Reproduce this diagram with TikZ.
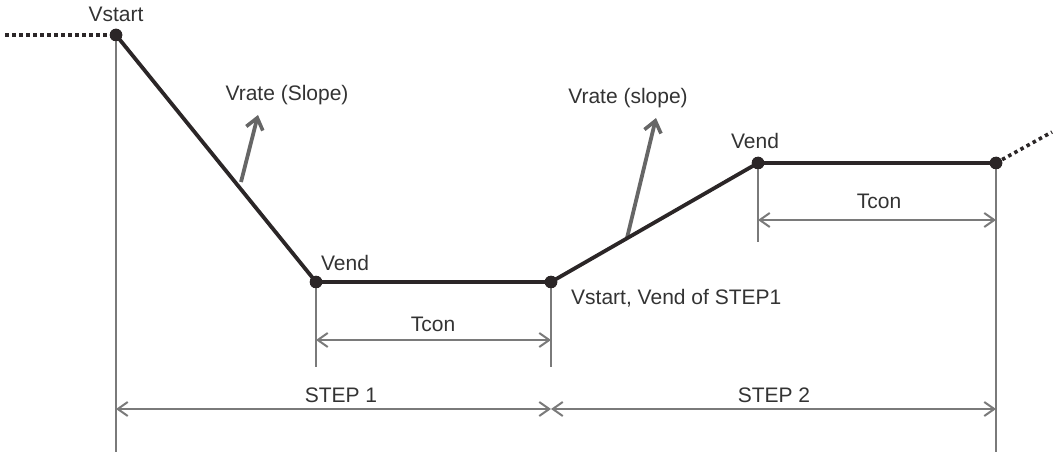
\documentclass[tikz,border=0pt]{standalone}
\usepackage{fontspec}
\setmainfont{Liberation Sans}
\usetikzlibrary{arrows.meta}
\definecolor{ink}{HTML}{2B2627}
\definecolor{gline}{HTML}{7A7A7A}
\definecolor{garrow}{HTML}{666666}
\definecolor{txt}{HTML}{333333}
\tikzset{
  curve/.style={ink, line width=3.8pt, line join=round},
  dotline/.style={ink, line width=3.6pt, dash pattern=on 3.5pt off 3.5pt},
  guide/.style={gline, line width=1.8pt},
  dim/.style={gline, line width=1.8pt, {Straight Barb[length=10pt,width=14pt,line width=2pt]}-{Straight Barb[length=10pt,width=14pt,line width=2pt]}},
  slope/.style={garrow, line width=3.8pt, -{Straight Barb[length=11pt,width=17pt,line width=3.6pt]}},
  lbl/.style={text=txt, font=\fontsize{21}{24}\selectfont, inner sep=0pt},
  pt/.style={circle, fill=ink, minimum size=12.5pt, inner sep=0pt},
}
\begin{document}
\begin{tikzpicture}[x=1pt,y=-1pt]
\useasboundingbox (0,0) rectangle (1054,454);
% points
\node[pt] (p1) at (116,35) {};
\node[pt] (p2) at (316,282) {};
\node[pt] (p3) at (551,282) {};
\node[pt] (p4) at (758,163) {};
\node[pt] (p5) at (996,163) {};
\coordinate (d0) at (5,35);
\coordinate (d6) at (1052,132);
% guides
\coordinate (g1) at (116,452);
\coordinate (g2) at (316,367);
\coordinate (g3) at (551,367);
\coordinate (g4) at (758,242);
\coordinate (g5) at (996,452);
\draw[guide] (p1.center) -- (g1);
\draw[guide] (p2.center) -- (g2);
\draw[guide] (p3.center) -- (g3);
\draw[guide] (p4.center) -- (g4);
\draw[guide] (p5.center) -- (g5);
% dimension lines
\coordinate (t1a) at (316,340); \coordinate (t1b) at (551,340);
\coordinate (t2a) at (758,220); \coordinate (t2b) at (996,220);
\coordinate (s1a) at (116,409); \coordinate (s1b) at (551,409);
\coordinate (s2a) at (551,409); \coordinate (s2b) at (996,409);
\draw[dim] (t1a) -- (t1b);
\draw[dim] (t2a) -- (t2b);
\draw[dim] (s1a) -- (s1b);
\draw[dim] (s2a) -- (s2b);
% slope arrows
\coordinate (a1s) at (241,182); \coordinate (a1e) at (258,115);
\coordinate (a2s) at (627,238); \coordinate (a2e) at (656,118);
\draw[slope] (a1s) -- (a1e);
\draw[slope] (a2s) -- (a2e);
% curve
\draw[dotline] (d0) -- (p1.center);
\draw[dotline] (p5.center) -- (d6);
\draw[curve] (p1.center) -- (p2.center) -- (p3.center) -- (p4.center) -- (p5.center);
\foreach \n in {p1,p2,p3,p4,p5} \node[pt] at (\n) {};
% labels
\node[lbl] (l1) at (116,14) {Vstart};
\node[lbl] (l2) at (287,95) {Vrate (Slope)};
\node[lbl] (l3) at (345,263) {Vend};
\node[lbl] (l4) at (433,324) {Tcon};
\node[lbl, anchor=west] (l5) at (571,298) {Vstart, Vend of STEP1};
\node[lbl] (l6) at (341,395) {STEP 1};
\node[lbl] (l7) at (774,395) {STEP 2};
\node[lbl] (l8) at (628,98) {Vrate (slope)};
\node[lbl] (l9) at (755,141) {Vend};
\node[lbl] (l10) at (879,201) {Tcon};
\end{tikzpicture}
\end{document}
